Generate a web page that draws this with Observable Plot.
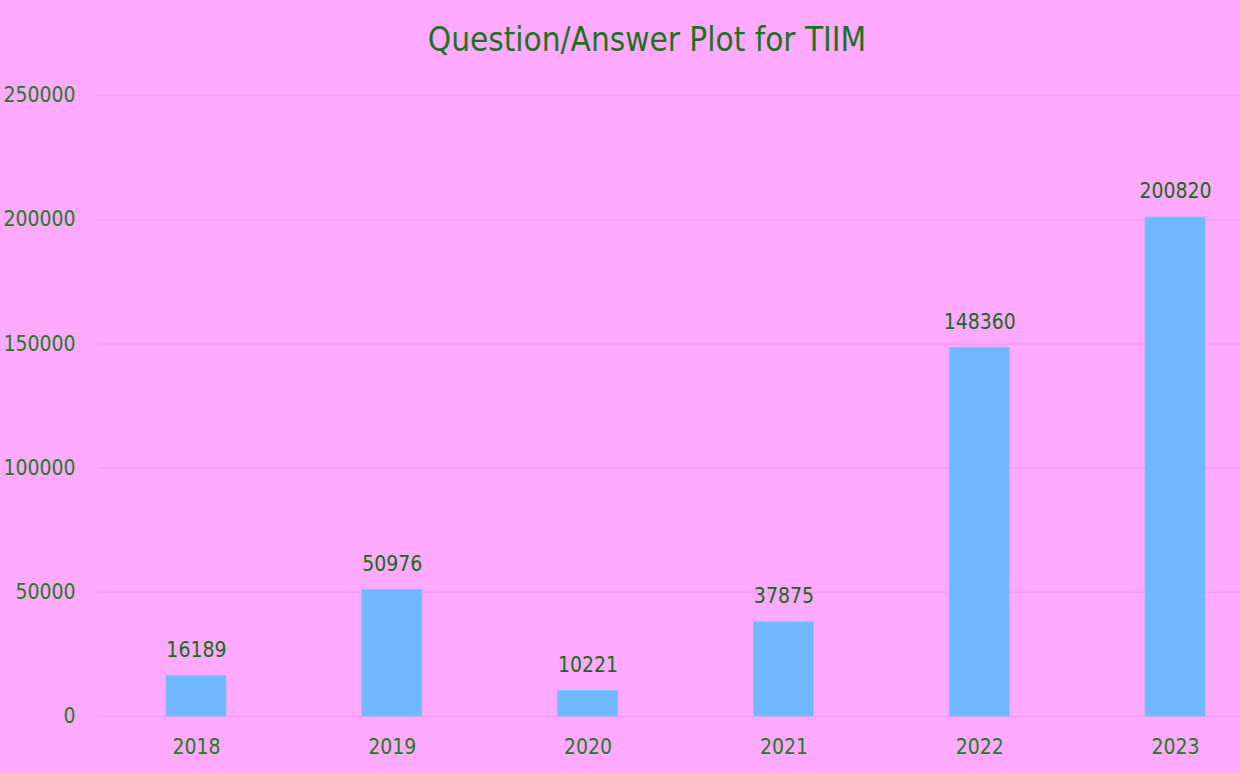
<!DOCTYPE html>
<html>
<head>
<meta charset="utf-8">
<script src="https://cdn.jsdelivr.net/npm/d3@7"></script>
<script src="https://cdn.jsdelivr.net/npm/@observablehq/plot@0.6"></script>
<style>
  html, body { margin: 0; padding: 0; background: #ffa9ff; width: 1240px; height: 773px; overflow: hidden; }
  #title { height: 75px; line-height: 80px; text-align: center; padding-left: 54px; box-sizing: border-box;
    font-family: "Liberation Sans Narrow", "DejaVu Sans Condensed", sans-serif; font-stretch: condensed;
    font-size: 33px; color: #1c721c; }
  #chart svg { display: block; }
</style>
</head>
<body>
<div id="title">Question/Answer Plot for TIIM</div>
<div id="chart"></div>
<script>
const years = ["2018", "2019", "2020", "2021", "2022", "2023"];
const counts = [16189, 50976, 10221, 37875, 148360, 200820];
const yTicks = [0, 50000, 100000, 150000, 200000, 250000];

const data = years.map((y, i) => ({year: y, count: counts[i]}));
const textColor = "#227a22";

const chart = Plot.plot({
  width: 1240,
  height: 698,
  marginLeft: 98,
  marginRight: 0,
  marginTop: 20,
  marginBottom: 57,
  style: {
    background: "transparent",
    fontFamily: "'Liberation Sans Narrow', 'DejaVu Sans Condensed', sans-serif",
    fontSize: "21px",
    color: textColor,
    overflow: "hidden"
  },
  x: {domain: years, range: [98, 1273], padding: 0, round: false, label: null},
  y: {domain: [0, 250000], label: null},
  marks: [
    Plot.gridY(yTicks, {stroke: "#ff97ff", strokeOpacity: 1, strokeWidth: 1.5}),
    Plot.barY(data, {x: "year", y: "count", fill: "#6fb8ff", stroke: "#7fc0ff", strokeWidth: 1, insetLeft: 68, insetRight: 68}),
    Plot.text(data, {x: "year", y: "count", text: d => String(d.count), dy: -26, fill: "#166a16", fontSize: 21}),
    Plot.axisX({tickSize: 0, tickPadding: 23, fill: textColor, fontSize: 21}),
    Plot.axisY(yTicks, {tickSize: 0, tickPadding: 23, tickFormat: d => String(d), fill: textColor, fontSize: 21})
  ]
});
document.getElementById("chart").appendChild(chart);
</script>
</body>
</html>
